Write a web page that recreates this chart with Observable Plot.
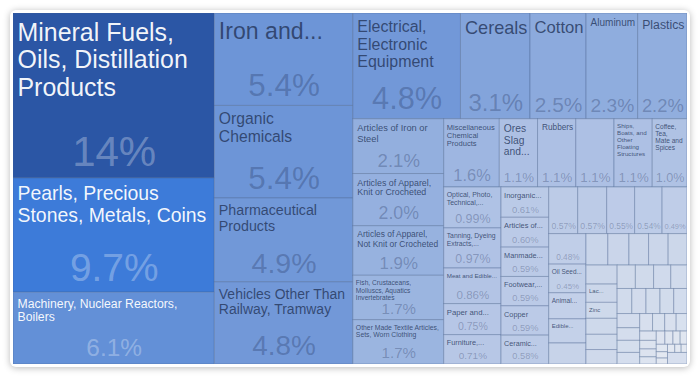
<!DOCTYPE html>
<html>
<head>
<meta charset="utf-8">
<script src="https://cdn.jsdelivr.net/npm/d3@7"></script>
<script src="https://cdn.jsdelivr.net/npm/@observablehq/plot@0.6"></script>
<style>
  html, body { margin: 0; padding: 0; background: #ffffff; }
  #card { position: absolute; left: 10px; top: 10px; width: 680px; height: 357px; background: #fff;
          border-radius: 6px; box-shadow: 0 1px 7px rgba(0,0,0,0.28); }
  #chart { position: absolute; left: 3px; top: 3px; }
</style>
</head>
<body>
<div id="card"><div id="chart"></div></div>
<script>
// ---- data (share of exports, %) ----
const names = [
  "Mineral Fuels, Oils, Distillation Products",
  "Pearls, Precious Stones, Metals, Coins",
  "Machinery, Nuclear Reactors, Boilers",
  "Iron and...",
  "Organic Chemicals",
  "Pharmaceutical Products",
  "Vehicles Other Than Railway, Tramway",
  "Electrical, Electronic Equipment",
  "Cereals",
  "Cotton",
  "Aluminum",
  "Plastics",
  "Articles of Iron or Steel",
  "Articles of Apparel, Knit or Crocheted",
  "Articles of Apparel, Not Knit or Crocheted",
  "Fish, Crustaceans, Molluscs, Aquatics Invertebrates",
  "Other Made Textile Articles, Sets, Worn Clothing",
  "Miscellaneous Chemical Products",
  "Ores Slag and...",
  "Rubbers",
  "",
  "Ships, Boats, and Other Floating Structures",
  "Coffee, Tea, Mate and Spices",
  "Optical, Photo, Technical,...",
  "Tanning, Dyeing Extracts,...",
  "Meat and Edible...",
  "Paper and...",
  "Furniture,...",
  "Inorganic...",
  "Articles of...",
  "Manmade...",
  "Footwear,...",
  "Copper",
  "Ceramic...",
  "", "", "", "", "",
  "",
  "Oil Seed...",
  "Animal...",
  "Edible...",
  "",
  "", "", "", "", "",
  "", "Lac...", "Zinc", "", "", "",
  "", "", "", "",
  "", "", "", "", "",
  "", "", "", "",
  "", "", "", "",
  "", "", "", "", "", "", "", "", "", "", "", "", "", "",
  ""
];
const shares = [
  14, 9.7, 6.1,
  5.4, 5.4, 4.9, 4.8,
  4.8, 3.1, 2.5, 2.3, 2.2,
  2.1, 2.0, 1.9, 1.7, 1.7,
  1.6, 1.1, 1.1, 1.1, 1.1, 1.0,
  0.99, 0.97, 0.86, 0.75, 0.71,
  0.61, 0.60, 0.59, 0.59, 0.59, 0.58,
  0.57, 0.57, 0.55, 0.54, 0.49,
  0.48, 0.45, 0.41, 0.38, 0.33,
  0.29, 0.28, 0.26, 0.26, 0.25,
  0.25, 0.24, 0.21, 0.21, 0.20, 0.19,
  0.18, 0.18, 0.17, 0.16,
  0.155, 0.15, 0.148, 0.145, 0.14,
  0.135, 0.12, 0.115, 0.11,
  0.095, 0.09, 0.085, 0.08,
  0.065, 0.06, 0.055, 0.05, 0.048, 0.045, 0.04, 0.038, 0.035, 0.03, 0.028, 0.025, 0.022, 0.02,
  0.095
];

// ---- layout ----
const W = 674, H = 351;
const FONT = '"Liberation Sans", Arial, Helvetica, sans-serif';
const LH = 1.1;
const ctx = document.createElement("canvas").getContext("2d");
function measure(s, f) { ctx.font = `${f}px ${FONT}`; return ctx.measureText(s).width; }
function wrap(text, f, maxW) {
  const words = text.split(" ");
  const lines = []; let line = "";
  for (const w of words) {
    const t = line ? line + " " + w : w;
    if (!line || measure(t, f) <= maxW) line = t;
    else { lines.push(line); line = w; }
  }
  if (line) lines.push(line);
  return {lines, widest: d3.max(lines, l => measure(l, f))};
}
const fmt = d3.format(".2r");

const root = d3.treemap().tile(d3.treemapSquarify).size([W, H])(
  d3.hierarchy({children: names.map((name, i) => ({name, value: shares[i]}))}).sum(d => d.value)
);

const cells = root.leaves().map(n => {
  const w = n.x1 - n.x0, h = n.y1 - n.y0;
  const c = {x0: n.x0, x1: n.x1, y0: n.y0, y1: n.y1, value: n.data.value, name: n.data.name,
             light: n.data.value >= 6};
  // label fit: multi-line candidate
  let lf = 0, lines = [];
  if (c.name) {
    const maxW = w - 7;
    const maxH = h * 0.5;
    for (let f = Math.max(Math.min(0.17 * h, 30), 6); f >= 5; f -= 0.1) {
      const r = wrap(c.name, f, maxW);
      if (r.widest <= maxW && r.lines.length * f * LH <= Math.max(maxH, f * LH)) { lf = f; lines = r.lines; break; }
    }
    // single-line candidate
    const fs = Math.min(0.25 * h, 30, maxW / (measure(c.name, 100) / 100));
    if (fs > lf && fs >= 5) { lf = fs; lines = [c.name]; }
  }
  c.lf = lf;
  c.label = lf ? lines.join("\n") : "";
  c.padX = lf >= 8 ? 4 : 2.5;
  c.padY = 3 + 0.2 * lf;
  // value fit
  c.pct = fmt(c.value) + "%";
  const em = measure(c.pct, 100) / 100;
  const pf = Math.min(42, 0.85 * w / em, 0.34 * h, 0.15 * Math.pow(w * h, 0.57));
  c.pf = pf;
  c.showPct = pf >= 6.4 && c.value >= 0.45;
  c.pctY = n.y1 - (3 + 0.22 * pf);
  return c;
});

const plot = Plot.plot({
  width: W, height: H, margin: 0,
  style: {fontFamily: FONT, background: "transparent"},
  x: {domain: [0, W], range: [0, W], axis: null},
  y: {domain: [0, H], range: [0, H], axis: null},
  color: {type: "log", clamp: true,
          domain: [0.03, 0.1, 0.25, 0.5, 1.1, 2.2, 5.4, 9.7, 14],
          range: ["#e3e8f1", "#d6dfee", "#ccd7ea", "#bfcde8", "#adc0e4", "#91aede", "#6d95d7", "#3d7bd9", "#2b56a5"]},
  marks: [
    Plot.rect(cells, {x1: "x0", x2: "x1", y1: "y0", y2: "y1", fill: "value",
                      stroke: "#46608f", strokeOpacity: 0.38, strokeWidth: 1}),
    Plot.text(cells.filter(d => d.label && d.light), {
      x: d => d.x0 + d.padX, y: d => d.y0 + d.padY, text: "label", fontSize: d => d.lf,
      textAnchor: "start", lineAnchor: "top", lineHeight: LH, fill: "#ffffff", fillOpacity: 0.95}),
    Plot.text(cells.filter(d => d.label && !d.light), {
      x: d => d.x0 + d.padX, y: d => d.y0 + d.padY, text: "label", fontSize: d => d.lf,
      textAnchor: "start", lineAnchor: "top", lineHeight: LH, fill: "#26375c", fillOpacity: 0.82}),
    Plot.text(cells.filter(d => d.showPct && d.light), {
      x: d => (d.x0 + d.x1) / 2, y: "pctY", text: "pct", fontSize: d => d.pf,
      textAnchor: "middle", lineAnchor: "bottom", fill: "#ffffff", fillOpacity: 0.3}),
    Plot.text(cells.filter(d => d.showPct && !d.light), {
      x: d => (d.x0 + d.x1) / 2, y: "pctY", text: "pct", fontSize: d => d.pf,
      textAnchor: "middle", lineAnchor: "bottom", fill: "#1c2c55", fillOpacity: 0.3})
  ]
});
document.getElementById("chart").appendChild(plot);
</script>
</body>
</html>
